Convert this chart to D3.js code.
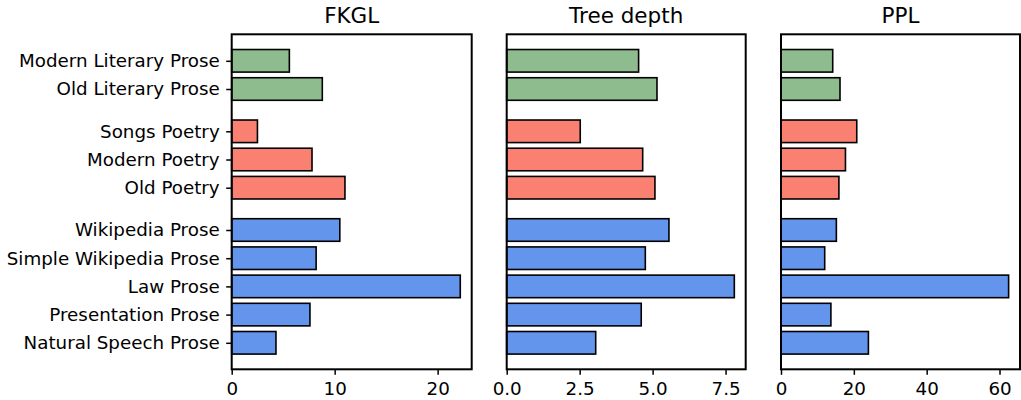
<!DOCTYPE html>
<html>
<head>
<meta charset="utf-8">
<script src="https://cdn.jsdelivr.net/npm/d3@7"></script>
<style>
  body { margin: 0; background: #fff; }
  svg text { font-family: "DejaVu Sans", sans-serif; fill: #000; }
</style>
</head>
<body>
<div id="chart"></div>
<script>
// data, top to bottom
const categories = [
  'Modern Literary Prose', 'Old Literary Prose',
  'Songs Poetry', 'Modern Poetry', 'Old Poetry',
  'Wikipedia Prose', 'Simple Wikipedia Prose', 'Law Prose', 'Presentation Prose', 'Natural Speech Prose'
];
const groups = ['literary', 'literary', 'poetry', 'poetry', 'poetry', 'prose', 'prose', 'prose', 'prose', 'prose'];
const fkgl = [5.6, 8.8, 2.5, 7.8, 11.0, 10.5, 8.2, 22.2, 7.6, 4.3];
const treeDepth = [4.52, 5.15, 2.52, 4.66, 5.08, 5.56, 4.75, 7.8, 4.61, 3.05];
const ppl = [14.2, 16.2, 20.8, 17.7, 15.9, 15.2, 12.0, 62.5, 13.7, 24.0];
const panelTitles = ['FKGL', 'Tree depth', 'PPL'];
const tickValues = [[0, 10, 20], [0, 2.5, 5, 7.5], [0, 20, 40, 60]];

const colors = { literary: '#8fbc8f', poetry: '#fa8072', prose: '#6495ed' };

// position of each row, with half a row of gap between groups
var pos = [];
var p = 0;
groups.forEach((g, i) => {
  if (i > 0 && g !== groups[i - 1]) p += 0.5;
  pos.push(p);
  p += 1;
});

const W = 1021, H = 400;
const plotTop = 34.3, plotBottom = 369.3;
const labelSize = '18.3px';
const panels = [
  { x0: 231.7, x1: 471.7, values: fkgl, fmt: d3.format('d') },
  { x0: 506.7, x1: 745.7, values: treeDepth, fmt: d3.format('.1f') },
  { x0: 781, x1: 1020, values: ppl, fmt: d3.format('d') }
];

var svg = d3.select('#chart')
  .append('svg')
  .attr('width', W)
  .attr('height', H);

// y: matplotlib-style 5% margins around bars of height 0.8
var lo = d3.min(pos) - 0.4, hi = d3.max(pos) + 0.4;
var m = (hi - lo) * 0.05;
var y = d3.scaleLinear()
  .domain([lo - m, hi + m])
  .range([plotTop, plotBottom]);

panels.forEach((pn, k) => {
  var x = d3.scaleLinear()
    .domain([0, d3.max(pn.values) * 1.05])
    .range([pn.x0, pn.x1]);

  var g = svg.append('g');

  //bars
  g.selectAll('rect.bar')
    .data(pn.values)
    .enter()
    .append('rect')
    .attr('class', 'bar')
    .attr('x', x(0))
    .attr('y', (d, i) => y(pos[i] - 0.4))
    .attr('width', d => x(d) - x(0))
    .attr('height', y(0.4) - y(-0.4))
    .attr('fill', (d, i) => colors[groups[i]])
    .attr('stroke', '#000')
    .attr('stroke-width', 1.6);

  //frame
  g.append('rect')
    .attr('x', pn.x0)
    .attr('y', plotTop)
    .attr('width', pn.x1 - pn.x0)
    .attr('height', plotBottom - plotTop)
    .attr('fill', 'none')
    .attr('stroke', '#000')
    .attr('stroke-width', 2);

  //x-axis
  var xa = g.append('g')
    .attr('transform', `translate(0, ${plotBottom})`)
    .call(d3.axisBottom(x).tickValues(tickValues[k]).tickFormat(pn.fmt).tickSizeOuter(0).tickSize(5.5).tickPadding(4.5));
  xa.select('.domain').remove();
  xa.selectAll('line').attr('stroke', '#000').attr('stroke-width', 1.5);
  xa.selectAll('text')
    .attr('font-size', labelSize)
    .attr('dy', '0.85em');

  //y-axis
  var ya = g.append('g')
    .attr('transform', `translate(${pn.x0}, 0)`)
    .call(d3.axisLeft(y).tickValues(pos).tickSizeOuter(0).tickSize(5.5).tickPadding(6.5)
      .tickFormat((d, i) => k === 0 ? categories[i] : ''));
  ya.select('.domain').remove();
  ya.selectAll('line').attr('stroke', '#000').attr('stroke-width', 1.5);
  ya.selectAll('text').attr('font-size', labelSize);
  if (k > 0) ya.selectAll('line').remove();

  //title
  g.append('text')
    .attr('x', (pn.x0 + pn.x1) / 2)
    .attr('y', 23.3)
    .attr('text-anchor', 'middle')
    .attr('font-size', '21.5px')
    .text(panelTitles[k]);
});
</script>
</body>
</html>
